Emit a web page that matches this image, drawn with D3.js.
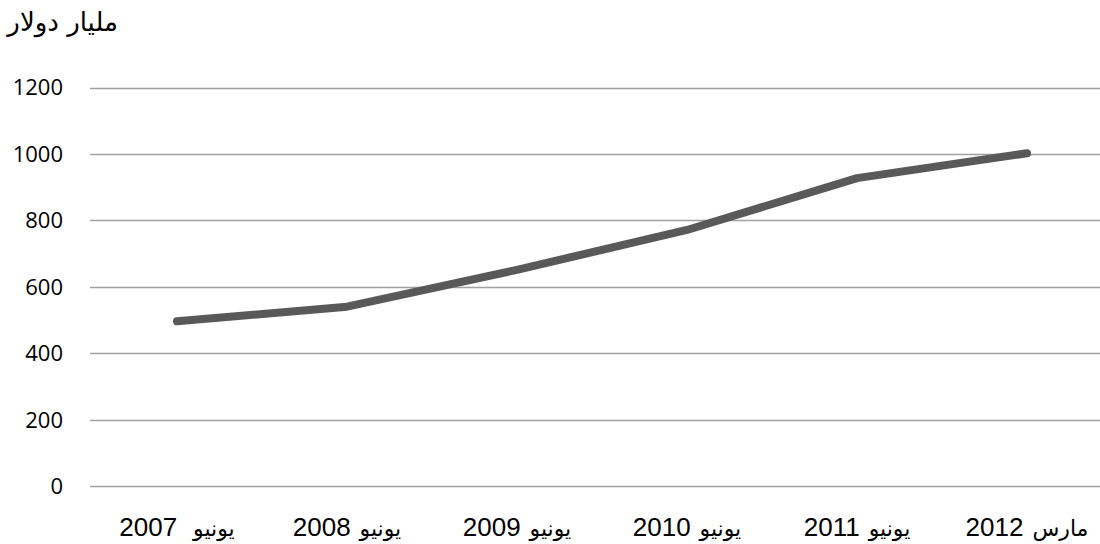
<!DOCTYPE html>
<html><head><meta charset="utf-8">
<script src="https://cdn.jsdelivr.net/npm/d3@7"></script>
<style>
body{margin:0;background:#fff;}
text{font-family:"Liberation Sans",Arial,"DejaVu Sans",sans-serif;}
</style></head>
<body><svg id="c" width="1100" height="544"></svg>
<script>
const categories = ["يونيو  2007","يونيو 2008","يونيو 2009","يونيو 2010","يونيو 2011","مارس 2012"];
const values = [496, 540, 651, 771, 927, 1002];
const yTicks = [0, 200, 400, 600, 800, 1000, 1200];
const yTitle = "مليار دولار";

const svg = d3.select("#c");
const x = d3.scaleBand().domain(categories).range([92, 1112]);
const y = d3.scaleLinear().domain([0, 1200]).range([486, 87.5]);

svg.append("g").selectAll("line").data(yTicks).join("line")
  .attr("x1", 90).attr("x2", 1110)
  .attr("y1", d => Math.round(y(d)) + 0.5).attr("y2", d => Math.round(y(d)) + 0.5)
  .attr("stroke", "#a0a0a0").attr("stroke-width", 1.3);

svg.append("g").selectAll("text").data(yTicks).join("text")
  .attr("x", 63).attr("y", d => y(d)).attr("dy", "0.36em")
  .attr("text-anchor", "end").attr("font-size", 22).attr("fill", "#000")
  .style("font-family", "'Open Sans','Liberation Sans',sans-serif")
  .text(d => d);

// x labels: year (left) + Arabic month (right), centred on band
const xg = svg.append("g");
categories.forEach(c => {
  const m = c.match(/^(\S+)(\s+)(\d+)$/);
  const word = m[1], spaces = m[2].length, year = m[3];
  const cx = x(c) + x.bandwidth() / 2;
  const ty = xg.append("text").attr("y", 536).attr("font-size", 26).attr("fill", "#000")
    .style("font-family", "'Liberation Sans',Arial,sans-serif").text(year);
  const tw = xg.append("text").attr("y", 536).attr("font-size", 22).attr("fill", "#000")
    .attr("direction", "rtl").attr("text-anchor", "end")
    .style("font-family", "'DejaVu Sans',sans-serif").text(word);
  const w1 = ty.node().getComputedTextLength();
  const w2 = tw.node().getComputedTextLength();
  const gap = 9 + 7 * (spaces - 1);
  const left = cx - (w1 + gap + w2) / 2;
  ty.attr("x", left);
  tw.attr("x", left + w1 + gap);
});

const line = d3.line().x((d, i) => x(categories[i]) + x.bandwidth() / 2).y(d => y(d));
svg.append("path").datum(values).attr("d", line)
  .attr("fill", "none").attr("stroke", "#595959").attr("stroke-width", 8)
  .attr("stroke-linecap", "round").attr("stroke-linejoin", "round");

svg.append("text").attr("x", 118).attr("y", 31).attr("text-anchor", "start")
  .attr("direction", "rtl").attr("font-size", 26).attr("fill", "#000")
  .style("font-family", "'DejaVu Sans',sans-serif")
  .text(yTitle);
</script></body></html>
